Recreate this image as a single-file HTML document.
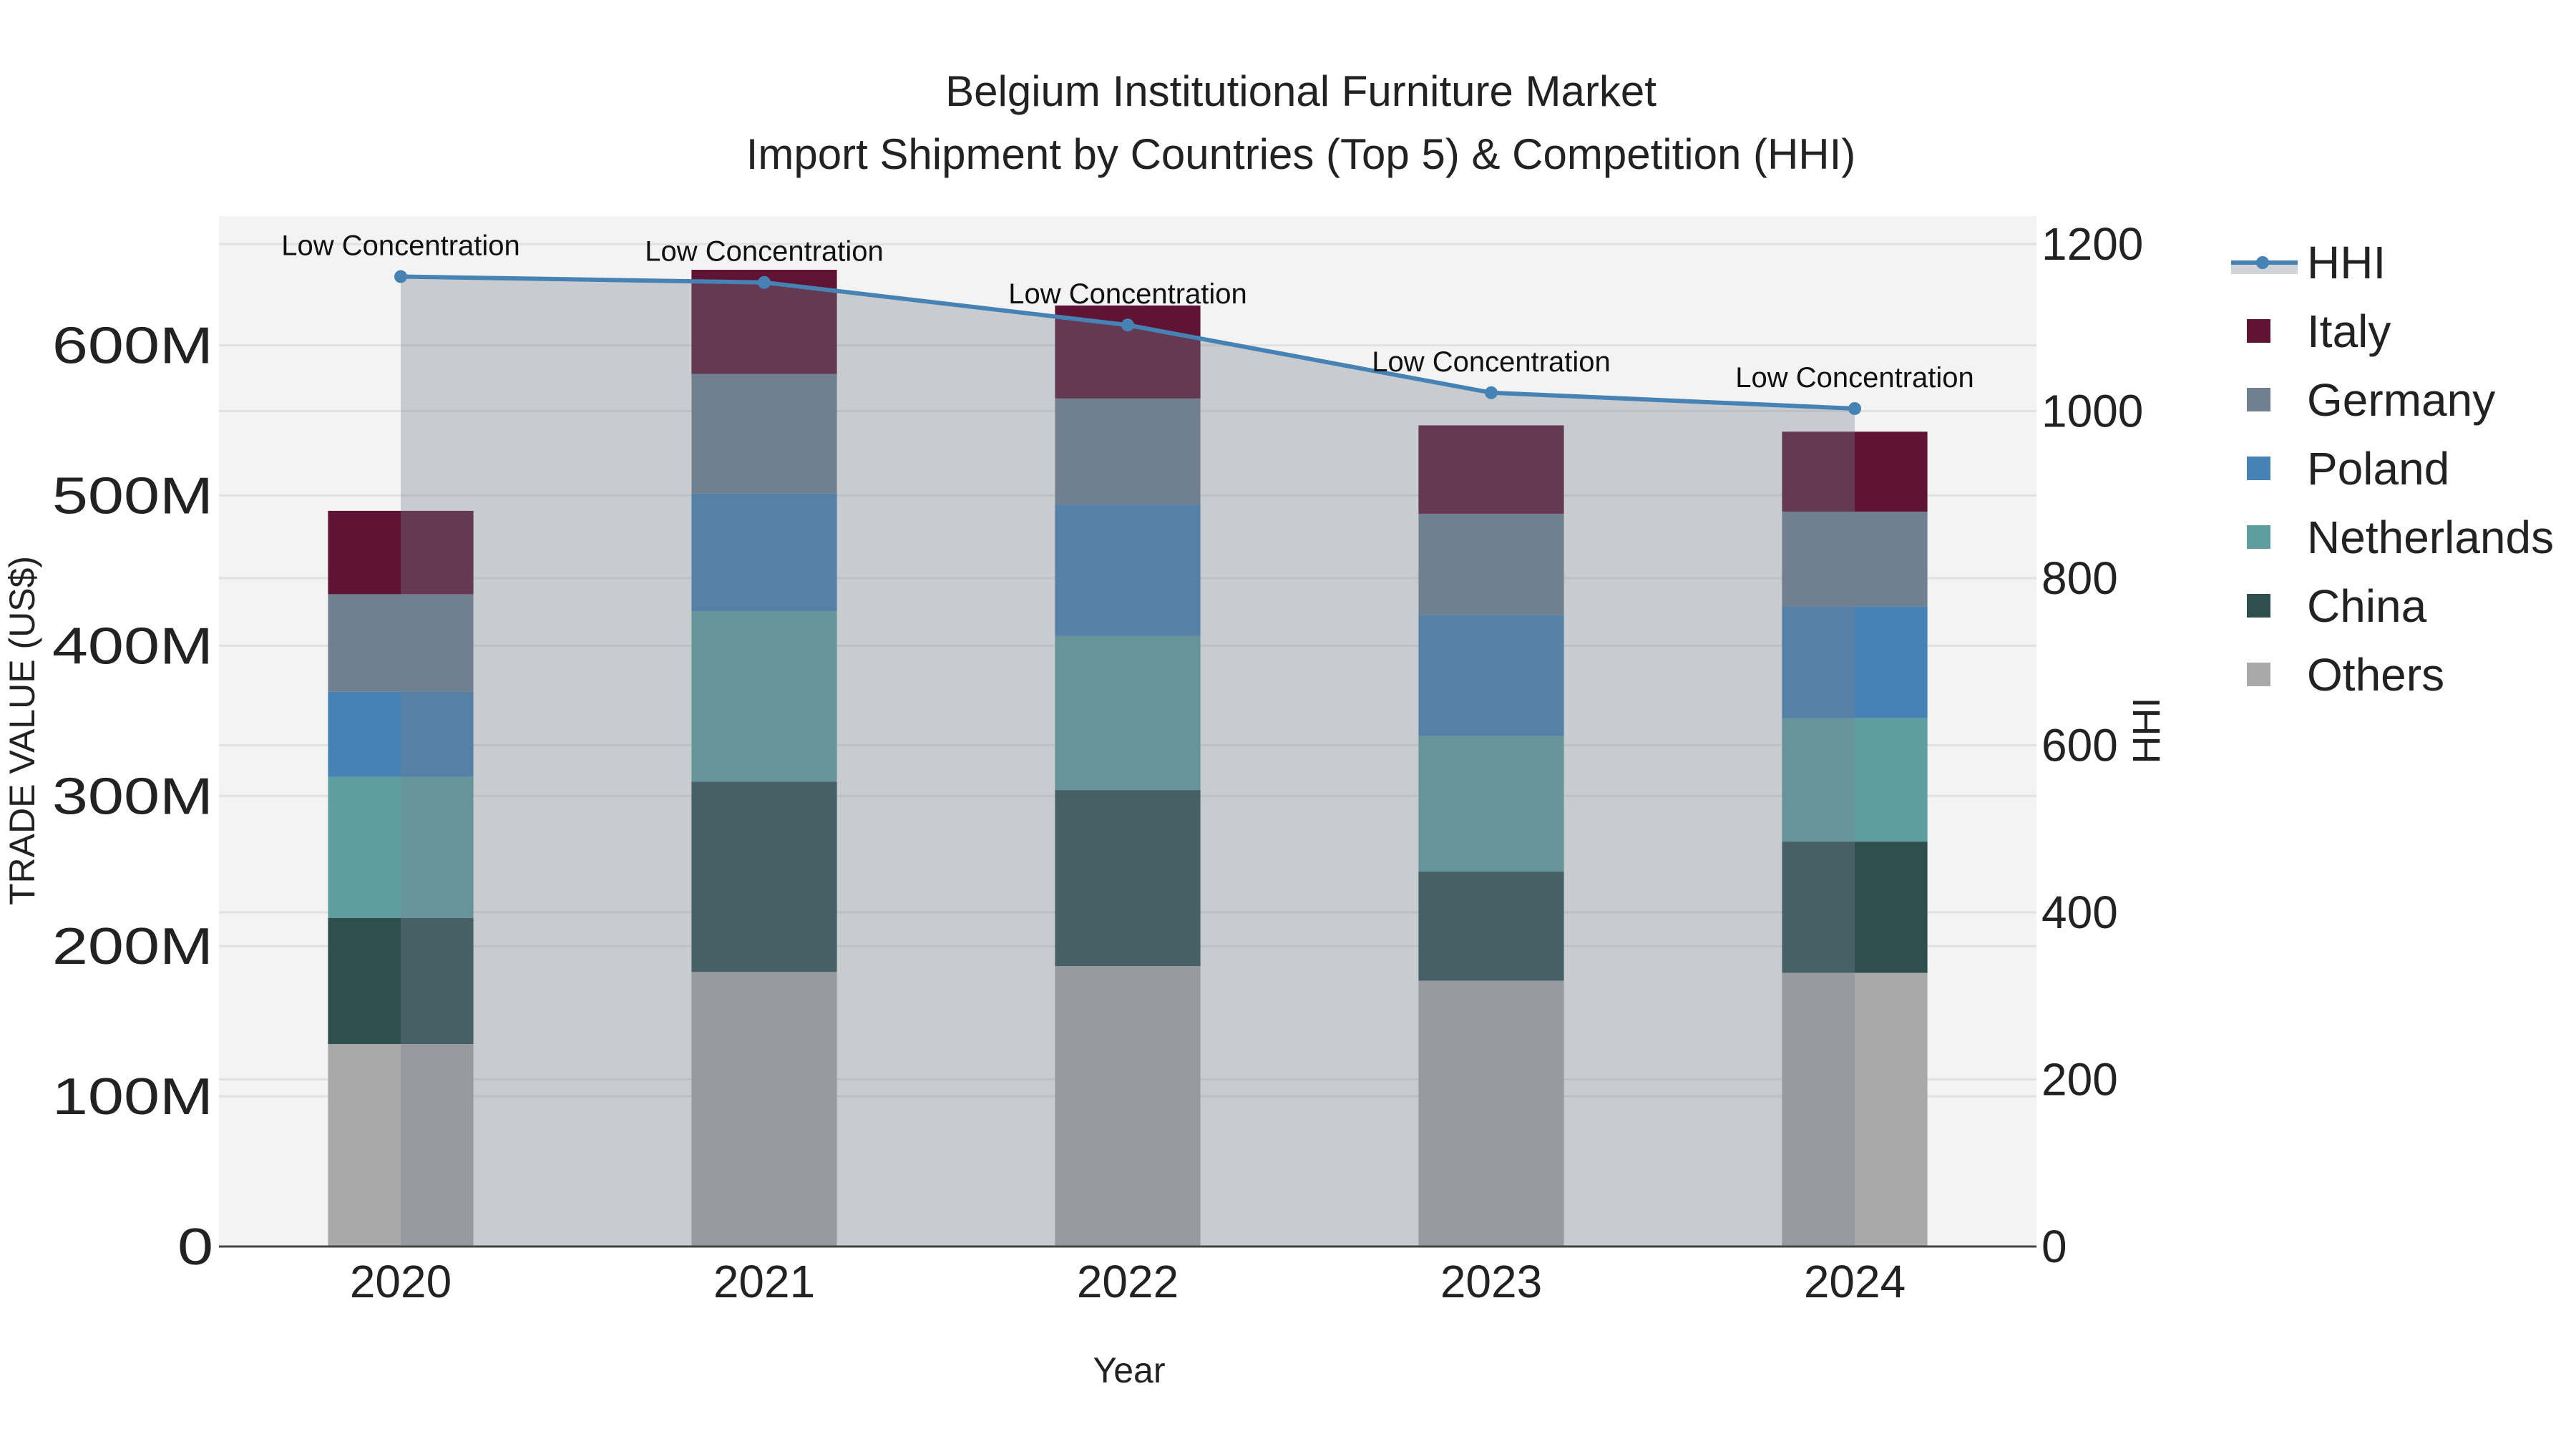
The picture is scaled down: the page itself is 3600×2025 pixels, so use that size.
<!DOCTYPE html>
<html><head><meta charset="utf-8"><style>
html,body{margin:0;padding:0;background:#fff}
svg{display:block;font-family:"Liberation Sans",sans-serif}
</style></head><body>
<svg id="chart" width="3600" height="2025" viewBox="0 0 3600 2025">
<rect x="0" y="0" width="3600" height="2025" fill="#fff"/>
<text x="1818" y="148" font-size="60" text-anchor="middle" fill="#222">Belgium Institutional Furniture Market</text>
<text x="1818" y="236" font-size="60" text-anchor="middle" fill="#222">Import Shipment by Countries (Top 5) &amp; Competition (HHI)</text>
<rect x="306" y="302" width="2540" height="1440" fill="#f3f3f3"/>
<g id="grid"></g>
<g id="bars"></g>
<g id="hhi"></g>
<line x1="306" y1="1742" x2="2846" y2="1742" stroke="#444" stroke-width="3"/>
<g id="axes"></g>
<text x="1578" y="1932" font-size="50" text-anchor="middle" fill="#222">Year</text>
<text transform="translate(48,1021) rotate(-90)" font-size="50" text-anchor="middle" fill="#222">TRADE VALUE (US$)</text>
<text transform="translate(3018,1021) rotate(-90)" font-size="54" text-anchor="middle" fill="#222">HHI</text>
<g id="legend"></g>
</svg>
<script>
const years = ["2020","2021","2022","2023","2024"];
const seriesNames = ["Others","China","Netherlands","Poland","Germany","Italy"];
const others = [134.8,182.8,186.7,177.0,182.2];
const china = [84.0,126.7,117.2,72.6,87.4];
const netherlands = [94.0,113.5,102.7,90.2,82.1];
const poland = [56.5,78.3,87.4,80.7,74.5];
const germany = [65.0,79.7,70.6,67.4,63.1];
const italy = [55.5,69.3,61.9,58.8,53.2];
const hhi = [1161,1154,1103,1022,1003];
const hhiLabels = ["Low Concentration","Low Concentration","Low Concentration","Low Concentration","Low Concentration"];
const yTicks = [0,100,200,300,400,500,600];
const yTickLabels = ["0","100M","200M","300M","400M","500M","600M"];
const y2Ticks = [0,200,400,600,800,1000,1200];

const colors = {Others:"#a9a9a9",China:"#2f4f4f",Netherlands:"#5f9ea0",Poland:"#4682b4",Germany:"#708090",Italy:"#5f1435"};
const seriesData = {Others:others,China:china,Netherlands:netherlands,Poland:poland,Germany:germany,Italy:italy};
const NS="http://www.w3.org/2000/svg";
const L=306,R=2846,Y0=1742,band=(R-L)/years.length;
const xPos=i=>L+band*(i+0.5);
const yPos=v=>Y0-v*2.099;
function y2(v){return Y0-v*1.1675;}
function mk(tag,attrs,parent){const e=document.createElementNS(NS,tag);for(const k in attrs)e.setAttribute(k,attrs[k]);parent.appendChild(e);return e;}
const grid=document.getElementById('grid'),bars=document.getElementById('bars'),hg=document.getElementById('hhi'),axes=document.getElementById('axes'),leg=document.getElementById('legend');
yTicks.forEach((t,i)=>{
  if(t>0){const g=mk('line',{x1:L,x2:R,y1:yPos(t),y2:yPos(t),stroke:"#e2e2e2","stroke-width":3},grid);
  
  }
  const tx=mk('text',{x:0,y:0,"font-size":72,"text-anchor":"end",fill:"#222",transform:`translate(298,${yPos(t)+25}) scale(1.25,1)`},axes);
  tx.textContent=yTickLabels[i];
  
  
});
y2Ticks.forEach(t=>{
  if(t>0){const g=mk('line',{x1:L,x2:R,y1:y2(t),y2:y2(t),stroke:"#e2e2e2","stroke-width":3},grid);
  
  }
  const tx=mk('text',{x:2853,y:y2(t)+22,"font-size":64,fill:"#222"},axes);
  tx.textContent=String(t);
  
  
});
years.forEach((yr,i)=>{
  const tx=mk('text',{x:xPos(i),y:1813,"font-size":64,"text-anchor":"middle",fill:"#222"},axes);
  tx.textContent=yr;
  
  
  let base=0;const bw=band*0.4;
  seriesNames.forEach(s=>{
    const v=seriesData[s][i];
    const r=mk('rect',{x:xPos(i)-bw/2,y:yPos(base+v),width:bw,height:yPos(base)-yPos(base+v),fill:colors[s]},bars);
    
    
    base+=v;
  });
});
let pts=hhi.map((v,i)=>xPos(i)+','+y2(v)).join(' ');
const area=mk('polygon',{points:xPos(0)+','+Y0+' '+pts+' '+xPos(hhi.length-1)+','+Y0,fill:"rgba(118,128,144,0.34)"},hg);


const line=mk('polyline',{points:pts,fill:"none",stroke:"#4682b4","stroke-width":6},hg);


hhi.forEach((v,i)=>{
  const c=mk('circle',{cx:xPos(i),cy:y2(v),r:9,fill:"#4682b4"},hg);
  
  
  const t=mk('text',{x:xPos(i),y:y2(v)-30,"font-size":40,"text-anchor":"middle",fill:"#111"},hg);
  t.textContent=hhiLabels[i];
  
  
});
const ly0=367,ls=96;
const lf=mk('rect',{x:3118,y:ly0,width:93,height:16,fill:"rgba(118,128,144,0.34)"},leg);


const ll=mk('line',{x1:3118,x2:3211,y1:ly0,y2:ly0,stroke:"#4682b4","stroke-width":6},leg);


const lc=mk('circle',{cx:3162,cy:ly0,r:9,fill:"#4682b4"},leg);


const lt=mk('text',{x:3224,y:ly0+22,"font-size":64,fill:"#222"},leg);
lt.textContent="HHI";


["Italy","Germany","Poland","Netherlands","China","Others"].forEach((s,k)=>{
  const cy=ly0+ls*(k+1);
  const r=mk('rect',{x:3140,y:cy-17,width:33,height:33,fill:colors[s]},leg);
  
  
  const t=mk('text',{x:3224,y:cy+22,"font-size":64,fill:"#222"},leg);
  t.textContent=s;
  
  
});
</script>
</body></html>
